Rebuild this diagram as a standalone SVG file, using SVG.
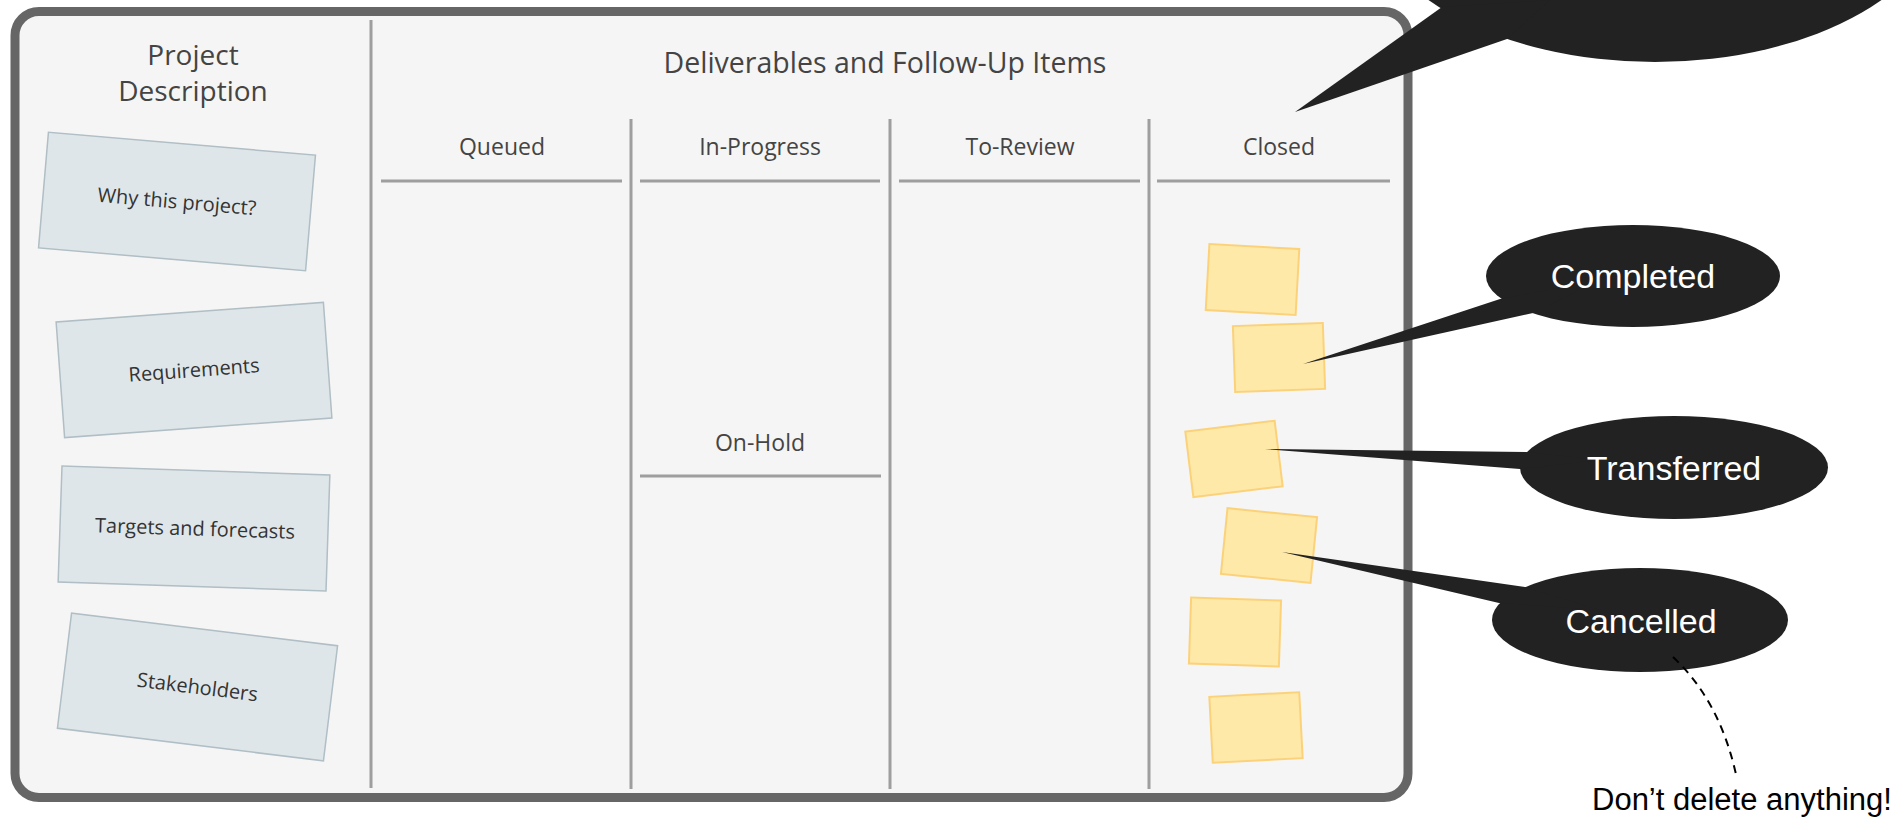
<svg xmlns="http://www.w3.org/2000/svg" width="1904" height="817" viewBox="0 0 1904 817">
  <style>
    .board { fill: #f5f5f5; stroke: #666666; stroke-width: 9; }
    .div { stroke: #9e9e9e; stroke-width: 3; fill: none; }
    .title { font-family: "Open Sans", "Noto Sans", sans-serif; fill: #444444; text-anchor: middle; }
    .card rect { fill: #dfe6e9; stroke: #b0bec5; stroke-width: 1.5; }
    .card text { font-family: "Open Sans", "Noto Sans", sans-serif; font-size: 20px; fill: #333333; text-anchor: middle; }
    .note rect { fill: #ffe9a8; stroke: #fbd27a; stroke-width: 2; }
    .callout { fill: #222222; }
    .callout text { font-family: "Liberation Sans", Arial, sans-serif; font-size: 34px; fill: #ffffff; text-anchor: middle; }
    .conn { fill: none; stroke: #000000; stroke-width: 2; stroke-dasharray: 8 6; }
    .note-text { font-family: "Liberation Sans", Arial, sans-serif; font-size: 31px; fill: #000000; }
  </style>
  <rect width="1904" height="817" fill="#ffffff"/>

  <g id="board">
    <rect class="board" x="15" y="11.5" width="1393" height="786" rx="24" ry="24"/>
    <line class="div" x1="371" y1="20" x2="371" y2="788"/>
    <line class="div" x1="631" y1="119" x2="631" y2="789"/>
    <line class="div" x1="890" y1="119" x2="890" y2="789"/>
    <line class="div" x1="1149" y1="119" x2="1149" y2="789"/>
    <line class="div" x1="381" y1="181" x2="622" y2="181"/>
    <line class="div" x1="640" y1="181" x2="880" y2="181"/>
    <line class="div" x1="899" y1="181" x2="1140" y2="181"/>
    <line class="div" x1="1157" y1="181" x2="1390" y2="181"/>
    <line class="div" x1="640" y1="476" x2="881" y2="476"/>
  </g>

  <g id="project-description">
    <text class="title" x="193" y="65" font-size="28">Project</text>
    <text class="title" x="193" y="101" font-size="28">Description</text>
  </g>
  <g id="deliverables-title">
    <text class="title" x="885" y="73" font-size="28.5">Deliverables and Follow-Up Items</text>
  </g>
  <g id="col-queued"><text class="title" x="502" y="155" font-size="23">Queued</text></g>
  <g id="col-inprogress"><text class="title" x="760" y="155" font-size="23">In-Progress</text></g>
  <g id="col-toreview"><text class="title" x="1020" y="155" font-size="23">To-Review</text></g>
  <g id="col-closed"><text class="title" x="1279" y="155" font-size="23">Closed</text></g>
  <g id="col-onhold"><text class="title" x="760" y="451" font-size="23">On-Hold</text></g>

  <g id="card-why" class="card" transform="translate(177,201.5) rotate(4.9)">
    <rect x="-134" y="-58" width="268" height="116"/>
    <text x="0" y="7">Why this project?</text>
  </g>
  <g id="card-requirements" class="card" transform="translate(194,370) rotate(-4.2)">
    <rect x="-134" y="-58" width="268" height="116"/>
    <text x="0" y="7">Requirements</text>
  </g>
  <g id="card-targets" class="card" transform="translate(194,528.5) rotate(1.9)">
    <rect x="-134" y="-58" width="268" height="116"/>
    <text x="1" y="7">Targets and forecasts</text>
  </g>
  <g id="card-stakeholders" class="card" transform="translate(197.5,687) rotate(7)">
    <rect x="-134" y="-58" width="268" height="116"/>
    <text x="0" y="7">Stakeholders</text>
  </g>

  <g id="note-1" class="note" transform="translate(1252.5,279.5) rotate(3.2)"><rect x="-45" y="-33" width="90" height="66"/></g>
  <g id="note-2" class="note" transform="translate(1279,357.5) rotate(-2)"><rect x="-45" y="-33" width="90" height="66"/></g>
  <g id="note-3" class="note" transform="translate(1234,459) rotate(-7)"><rect x="-45" y="-33" width="90" height="66"/></g>
  <g id="note-4" class="note" transform="translate(1269,545.5) rotate(5.7)"><rect x="-45" y="-33" width="90" height="66"/></g>
  <g id="note-5" class="note" transform="translate(1235,632) rotate(1.9)"><rect x="-45" y="-33" width="90" height="66"/></g>
  <g id="note-6" class="note" transform="translate(1256,727.5) rotate(-3)"><rect x="-45" y="-33" width="90" height="66"/></g>

  <g id="callout-top" class="callout">
    <ellipse cx="1655" cy="-106" rx="292" ry="168"/>
    <polygon points="1295,112 1442,7 1550,0 1507,39"/>
  </g>
  <g id="callout-completed" class="callout">
    <ellipse cx="1633" cy="276" rx="147" ry="51"/>
    <polygon points="1303,364 1500,299 1600,280 1533,313"/>
    <text x="1633" y="288">Completed</text>
  </g>
  <g id="callout-transferred" class="callout">
    <ellipse cx="1674" cy="467.5" rx="154" ry="51.5"/>
    <polygon points="1265,449 1526,452 1600,460 1520,469"/>
    <text x="1674" y="480">Transferred</text>
  </g>
  <g id="callout-cancelled" class="callout">
    <ellipse cx="1640" cy="620" rx="148" ry="52"/>
    <polygon points="1282,552 1525,587 1600,610 1499,603"/>
    <text x="1641" y="633">Cancelled</text>
  </g>

  <g id="connectors">
    <path class="conn" d="M1673,657 Q1721,702 1737,779"/>
  </g>

  <g id="note-dont-delete">
    <text class="note-text" x="1592" y="810">Don’t delete anything!</text>
  </g>
</svg>
